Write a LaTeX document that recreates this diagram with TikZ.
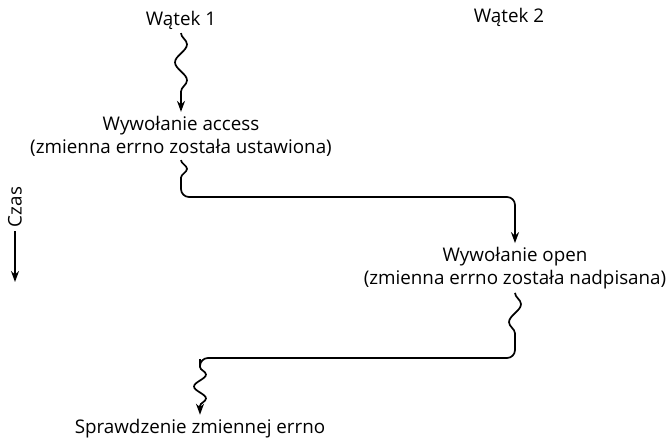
\documentclass[tikz,border=0pt]{standalone}
\usepackage{fontspec}
\setmainfont{Open Sans}
\usetikzlibrary{arrows.meta,decorations.pathmorphing}

\begin{document}
\begin{tikzpicture}[x=1pt,y=-1pt,
			>={Stealth[length=11pt,width=8pt]},
			line width=1.7pt,
			every node/.style={font=\fontsize{18.8}{23}\selectfont, align=center, inner sep=0pt, outer sep=4pt},
			wave/.style={decorate, decoration={snake, amplitude=6pt, segment length=#1, post length=8pt}},
			wave/.default=30pt
			]
			\useasboundingbox (0,0) rectangle (670,439);
			
			% watki
			\node[anchor=base] (t1) at (181,25) {Wątek 1};
			\node[anchor=base] (t2) at (509,23) {Wątek 2};
			
			% wywolania
			\node (access) at (181,136) {Wywołanie access\\(zmienna errno została ustawiona)};
			\node (open) at (515,268) {Wywołanie open\\(zmienna errno została nadpisana)};
			\node[anchor=base] (check) at (200,433) {Sprawdzenie zmiennej errno};
			
			% os czasu
			\node[rotate=90] (czas) at (15,207) {Czas};
			\coordinate (tEnd) at (15,282);
			\draw[->] (czas.west) -- (tEnd);
			
			% punkty zalaman
			\coordinate (waveA) at (181,188);
			\coordinate (turnA) at (181,197);
			\coordinate (waveC) at (515,348);
			\coordinate (turnC) at (515,358);
			\coordinate (turnD) at (200,358);
			\coordinate (waveD) at (200,367);
			
			% przebieg
			\draw[->] (t1.south) decorate[wave=36pt]{-- (access.north)};
			\draw[->] (access.south) decorate[wave=28pt]{-- (waveA)}
				[rounded corners=8pt] -- (turnA) -| (open.north);
			\draw[->] (open.south) decorate[wave=36pt]{-- (waveC)}
				[rounded corners=8pt] -- (turnC) -- (turnD) -- (waveD)
				[sharp corners] decorate[wave=24pt]{-- (check.north)};
			
		\end{tikzpicture}
\end{document}
